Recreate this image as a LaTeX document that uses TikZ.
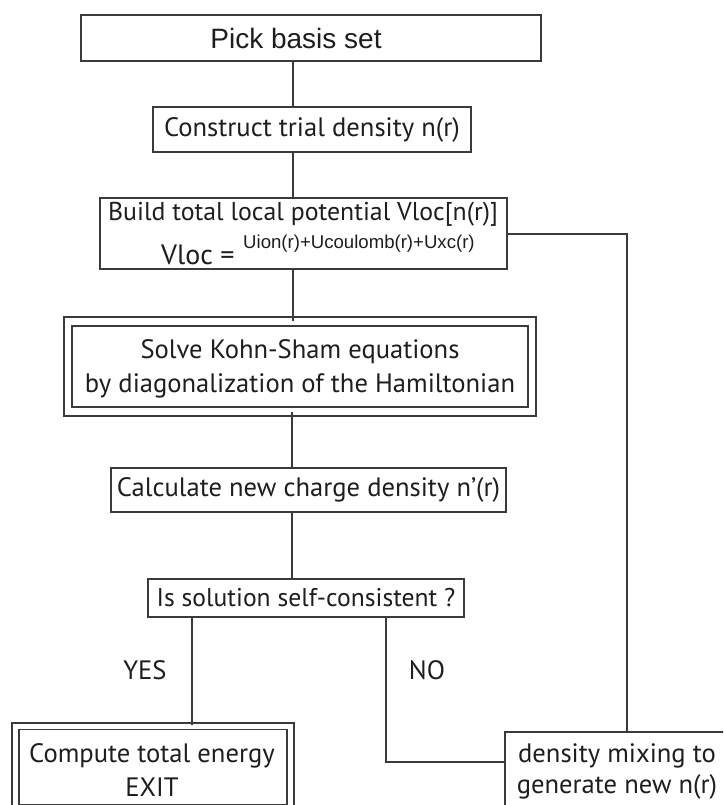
\documentclass[tikz,border=0pt]{standalone}
\usepackage{fontspec}
\setmainfont{PT Sans}
\newfontfamily\arialfont{Liberation Sans}
\definecolor{ink}{HTML}{3A3A3A}
\definecolor{txt}{HTML}{1E1E1E}
\newcommand\mainsize{\fontsize{26.6}{33}\selectfont}
\begin{document}
\begin{tikzpicture}[x=1pt,y=-1pt,
  box/.style={draw=ink, line width=2pt, inner sep=0pt, align=center, text=txt, font=\mainsize},
  dbox/.style={draw=ink, line width=1.9pt, double=white, double distance=6.5pt, inner sep=0pt},
  lbl/.style={inner sep=0pt, text=txt, font=\mainsize, align=center},
  link/.style={draw=ink, line width=1.7pt}]
\useasboundingbox (0,0) rectangle (723,805);
\clip (0,0) rectangle (723,805);
\fill[white] (0,0) rectangle (723,805);

% boxes
\node[box, minimum width=460pt, minimum height=46pt] (pick) at (311,38) {};
\node[lbl, font=\arialfont\fontsize{28}{30}\selectfont] (picktxt) at (296,38) {Pick basis set};

\node[box, minimum width=318pt, minimum height=45pt] (cons) at (312,129.5) {Construct trial density n(r)};

\node[box, minimum width=407pt, minimum height=71pt] (build) at (303.5,233.5) {};
\node[lbl, font=\fontsize{25.8}{30}\selectfont] (b1) at (303,214) {Build total local potential Vloc[n(r)]};
\node[lbl, anchor=west, font=\fontsize{28}{30}\selectfont] (b2) at (161,255) {Vloc =};
\node[lbl, anchor=west, font=\arialfont\fontsize{18.6}{20}\selectfont] (b3) at (243,244) {Uion(r)+Ucoulomb(r)+Uxc(r)};

\node[dbox, minimum width=464pt, minimum height=90pt] (solve) at (300,366.5) {};
\node[lbl] (s1) at (300,352) {Solve Kohn-Sham equations};
\node[lbl] (s2) at (300,386) {by diagonalization of the Hamiltonian};

\node[box, minimum width=395pt, minimum height=44pt] (calc) at (308.5,490) {Calculate new charge density n'(r)};

\node[box, minimum width=316pt, minimum height=38pt, font=\fontsize{25.6}{30}\selectfont] (is) at (306,598) {Is solution self-consistent ?};

\node[lbl] (yes) at (145,670) {YES};
\node[lbl] (no) at (427,670) {NO};

\node[dbox, double distance=5pt, minimum width=275pt, minimum height=82pt] (comp) at (153,767) {};
\node[lbl] (c1) at (152,756) {Compute total energy};
\node[lbl] (c2) at (152,787) {EXIT};

\node[box, minimum width=230pt, minimum height=84pt] (mix) at (620,774) {};
\node[lbl] (m1) at (617,756) {density mixing to};
\node[lbl] (m2) at (617,787) {generate new n(r)};

% connectors
\draw[link] (pick.south -| 293,0) -- (cons.north -| 293,0);
\draw[link] (cons.south -| 293,0) -- (build.north -| 293,0);
\draw[link] (build.south -| 293,0) -- (solve.north -| 293,0);
\draw[link] (solve.south -| 292,0) -- (calc.north -| 292,0);
\draw[link] (calc.south -| 292,0) -- (is.north -| 292,0);
\draw[link] (is.south -| 192,0) -- (comp.north -| 192,0);
\coordinate (nocorner) at (386,762);
\draw[link] (is.south -| 386,0) -- (nocorner) -- (nocorner -| mix.west);
\coordinate (loopcorner) at (627,234);
\draw[link] (build.east |- loopcorner) -- (loopcorner) -- (loopcorner |- mix.north);
\end{tikzpicture}
\end{document}
